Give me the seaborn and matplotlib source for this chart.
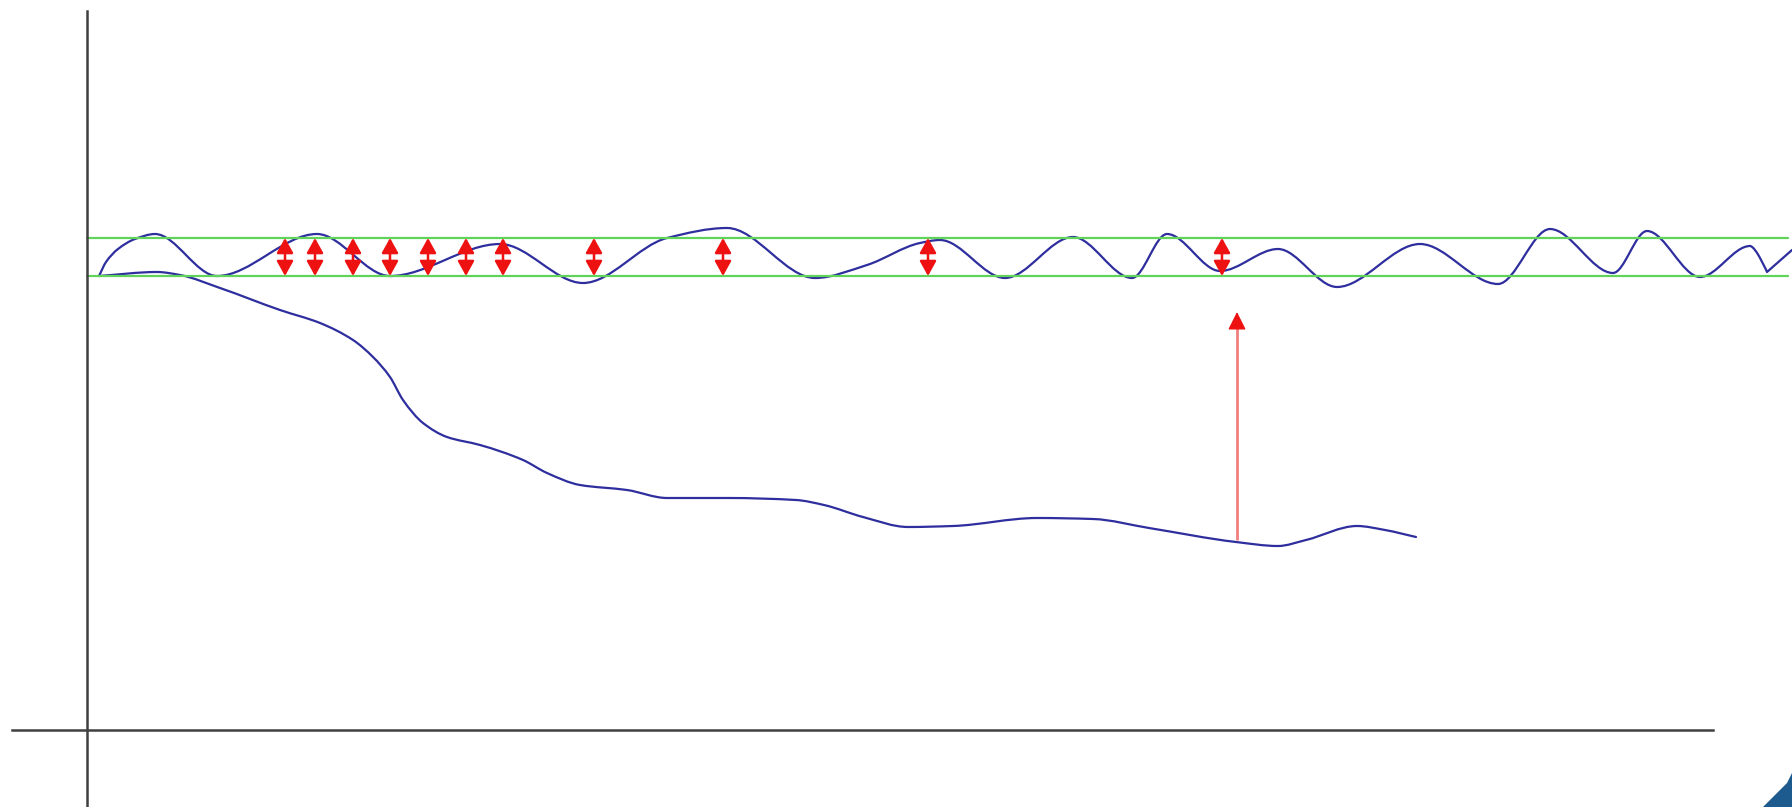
import numpy as np
import pandas as pd
import matplotlib
matplotlib.use("Agg")
import matplotlib.pyplot as plt
import seaborn as sns
from matplotlib.path import Path
from matplotlib.patches import PathPatch, Polygon

# ---------------- data ----------------
# oscillating signal inside the band
wave_x = [12, 19, 31, 48, 68, 130, 230, 303, 413, 496, 580, 640, 728, 780, 833, 853,
          918, 986, 1045, 1080, 1133, 1191, 1250, 1333, 1411, 1463, 1526, 1560,
          1613, 1663, 1680, 1705]
wave_y = [454, 468, 481, 491, 496, 454, 496, 454, 486, 447, 492, 502, 452, 465, 487, 490,
          452, 493, 452, 496, 459, 481, 443, 486, 446, 501, 457, 499,
          453, 484, 458, 480]
wave_cusps = [30]

# drifting (falling) signal
drift_x = [12, 70, 93, 133, 193, 233, 266, 286, 303, 316, 336, 360, 393, 436, 460,
           493, 540, 580, 641, 709, 737, 776, 821, 866, 950, 1006, 1062, 1149,
           1191, 1219, 1270, 1298, 1329]
drift_y = [454, 458, 455, 442, 420, 407, 390, 373, 353, 330, 307, 293, 285, 270, 257,
           245, 240, 232, 232, 230, 225, 213, 203, 204, 212, 211, 202, 188,
           184, 190, 204, 200, 193]

# tolerance band
band_lower = 454
band_upper = 492
band_start = 0
band_end = 1701

# double arrows showing the band width
arrow_x = [198, 228, 266, 303, 341, 379, 416, 507, 636, 841, 1135]

# single arrow (correction of the drift)
lift_x = 1150
lift_from = 190
lift_to = 418

# axis extents
x_axis_bounds = (-75, 1626)
y_axis_bounds = (-77, 719)
xlim = (-87, 1705)
ylim = (-77, 730)

# slide decoration in the lower right corner
corner_x = [1705, 1700, 1686, 1676, 1705]
corner_y = [-43, -53, -67, -77, -77]

BLUE = "#2e2e9e"
GREEN = "#5fd35a"
RED = "#ee1111"
PINK = "#f27e7e"
AXIS = "#404040"


def smooth_path(xs, ys, cusps=()):
    xs = np.asarray(xs, float)
    ys = np.asarray(ys, float)
    n = len(xs)
    h = np.diff(xs)
    s = np.diff(ys) / h
    m = np.zeros(n)
    m[0] = s[0]
    m[-1] = s[-1]
    for i in range(1, n - 1):
        if s[i - 1] * s[i] > 0:
            w1 = 2 * h[i] + h[i - 1]
            w2 = h[i] + 2 * h[i - 1]
            m[i] = (w1 + w2) / (w1 / s[i - 1] + w2 / s[i])
    verts = [(xs[0], ys[0])]
    codes = [Path.MOVETO]
    for i in range(n - 1):
        d = h[i] / 3.0
        c1 = (xs[i] + d, ys[i] + m[i] * d)
        c2 = (xs[i + 1] - d, ys[i + 1] - m[i + 1] * d)
        if i in cusps:
            c1 = (xs[i], ys[i])
        if (i + 1) in cusps:
            c2 = (xs[i + 1], ys[i + 1])
        verts += [c1, c2, (xs[i + 1], ys[i + 1])]
        codes += [Path.CURVE4] * 3
    return Path(verts, codes)


sns.set_theme(style="white")
plt.rcParams["font.family"] = ["DejaVu Sans"]

fig = plt.figure(figsize=(17.92, 8.07), dpi=100)
ax = fig.add_axes([0, 0, 1, 1])
ax.set_xlim(*xlim)
ax.set_ylim(*ylim)

# band lines through seaborn
band_df = pd.DataFrame({
    "x": [band_start, band_end, band_start, band_end],
    "y": [band_upper, band_upper, band_lower, band_lower],
    "line": ["upper", "upper", "lower", "lower"],
})
sns.lineplot(data=band_df, x="x", y="y", units="line", estimator=None,
             color=GREEN, linewidth=1.6, ax=ax, legend=False)

# signals
ax.add_patch(PathPatch(smooth_path(wave_x, wave_y, wave_cusps), fill=False,
                       edgecolor=BLUE, linewidth=1.6, capstyle="round",
                       joinstyle="round"))
ax.add_patch(PathPatch(smooth_path(drift_x, drift_y), fill=False,
                       edgecolor=BLUE, linewidth=1.6, capstyle="round",
                       joinstyle="round"))

# double arrows
for xa in arrow_x:
    ax.annotate("", xy=(xa, band_upper), xytext=(xa, band_lower),
                arrowprops=dict(arrowstyle="<|-|>,head_length=0.9,head_width=0.5",
                                mutation_scale=10, color=RED, lw=1.8,
                                shrinkA=0, shrinkB=0))

# lifting arrow
ax.plot([lift_x, lift_x], [lift_from, lift_to - 14], color=PINK, lw=2.0,
        solid_capstyle="butt")
ax.annotate("", xy=(lift_x, lift_to), xytext=(lift_x, lift_to - 16),
            arrowprops=dict(arrowstyle="-|>,head_length=1.1,head_width=0.55",
                            mutation_scale=10, color=RED, lw=1.0,
                            shrinkA=0, shrinkB=0))

# corner decoration
ax.add_patch(Polygon(list(zip(corner_x, corner_y)), closed=True,
                     facecolor="#1d5b8e", edgecolor="none"))

# axes as crossing spines
for side in ["top", "right"]:
    ax.spines[side].set_visible(False)
ax.spines["left"].set_position(("data", 0))
ax.spines["bottom"].set_position(("data", 0))
ax.spines["left"].set_bounds(*y_axis_bounds)
ax.spines["bottom"].set_bounds(*x_axis_bounds)
for side in ["left", "bottom"]:
    ax.spines[side].set_color(AXIS)
    ax.spines[side].set_linewidth(1.8)
ax.set_xticks([])
ax.set_yticks([])
ax.set_xlabel("")
ax.set_ylabel("")
ax.set_facecolor("white")
fig.patch.set_facecolor("white")

fig.savefig("out.png", dpi=100, facecolor="white")
